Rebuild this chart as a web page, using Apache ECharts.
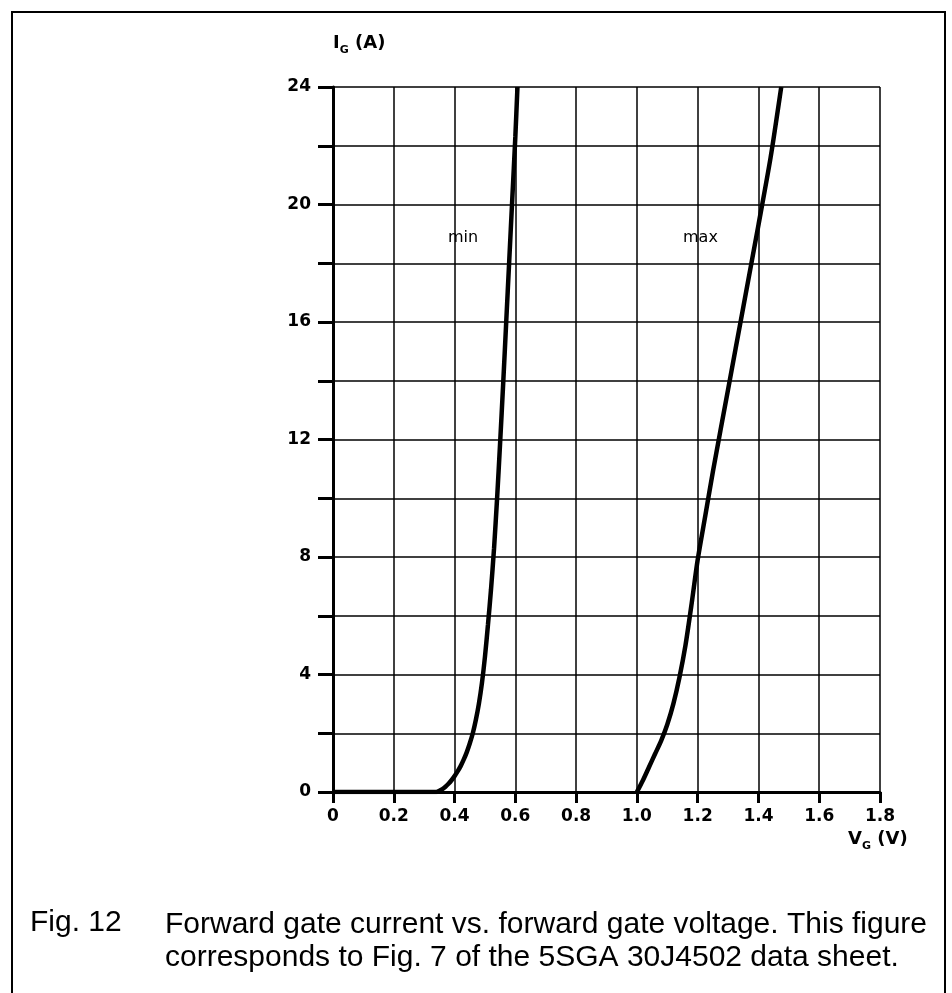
<!DOCTYPE html>
<html><head><meta charset="utf-8">
<script src="https://cdn.jsdelivr.net/npm/echarts@6/dist/echarts.min.js"></script>
<style>html,body{margin:0;padding:0;background:#fff}#c{width:952px;height:993px}</style>
</head><body><div id="c"></div>
<script>
// Gate voltage (V) / gate current (A)
const minV = [0.00, 0.34, 0.35, 0.36, 0.37, 0.38, 0.39, 0.40, 0.41, 0.42, 0.43, 0.44, 0.45, 0.46, 0.47, 0.48, 0.49, 0.50, 0.51, 0.52, 0.53, 0.54, 0.55, 0.56, 0.57, 0.58, 0.59, 0.60, 0.607];
const minI = [0, 0, 0.04, 0.1, 0.18, 0.28, 0.4, 0.54, 0.7, 0.88, 1.1, 1.35, 1.65, 2.0, 2.45, 3.0, 3.7, 4.6, 5.7, 6.9, 8.3, 10.0, 11.9, 13.9, 16.0, 18.1, 20.2, 22.3, 24];
const maxV = [1.00, 1.02, 1.04, 1.06, 1.08, 1.10, 1.12, 1.14, 1.16, 1.18, 1.20, 1.225, 1.25, 1.30, 1.35, 1.40, 1.44, 1.475];
const maxI = [0, 0.4, 0.85, 1.3, 1.75, 2.3, 3.0, 3.9, 5.0, 6.4, 7.9, 9.4, 10.9, 13.7, 16.5, 19.3, 21.6, 24];
const xTicks = ['0', '0.2', '0.4', '0.6', '0.8', '1.0', '1.2', '1.4', '1.6', '1.8'];
const yTicks = ['0', '4', '8', '12', '16', '20', '24'];
const captionNo = 'Fig. 12';
const captionL1 = 'Forward gate current vs. forward gate voltage. This figure';
const captionL2 = 'corresponds to Fig. 7 of the 5SGA 30J4502 data sheet.';

const pairs = (xs, ys) => xs.map((v, i) => [v, ys[i]]);
const tickFont = {color: '#000', fontFamily: 'DejaVu Sans', fontWeight: 'bold', fontSize: 17};
const nameRich = {
  b: {fontFamily: 'DejaVu Sans', fontWeight: 'bold', fontSize: 18, fill: '#000', verticalAlign: 'bottom'},
  s: {fontFamily: 'DejaVu Sans', fontWeight: 'bold', fontSize: 11, fill: '#000', verticalAlign: 'bottom', padding: [0, 0, -4, 0]}
};

const chart = echarts.init(document.getElementById('c'), null, {renderer: 'canvas'});
chart.setOption({
  animation: false,
  backgroundColor: '#fff',
  grid: {left: 333, right: 72, top: 87, bottom: 201, containLabel: false},
  xAxis: {
    type: 'value', min: 0, max: 1.8, interval: 0.2,
    axisLine: {show: true, onZero: false, lineStyle: {color: '#000', width: 3}},
    axisTick: {show: true, length: 11, lineStyle: {color: '#000', width: 3}},
    splitLine: {show: true, lineStyle: {color: '#000', width: 1.5}},
    axisLabel: Object.assign({margin: 16, formatter: v => {
      const k = Math.round(v / 0.2); return xTicks[k] !== undefined ? xTicks[k] : ''; }}, tickFont)
  },
  yAxis: {
    type: 'value', min: 0, max: 24, interval: 2,
    axisLine: {show: true, lineStyle: {color: '#000', width: 3}},
    axisTick: {show: true, length: 15, lineStyle: {color: '#000', width: 3}},
    splitLine: {show: true, lineStyle: {color: '#000', width: 1.5}},
    axisLabel: Object.assign({margin: 22, formatter: v => {
      const s = String(Math.round(v)); return yTicks.includes(s) ? s : ''; }}, tickFont)
  },
  series: [
    {type: 'line', data: pairs(minV, minI), smooth: 0.25, symbol: 'none',
     lineStyle: {color: '#000', width: 4.5}, z: 5},
    {type: 'line', data: pairs(maxV, maxI), smooth: 0.25, symbol: 'none',
     lineStyle: {color: '#000', width: 4.5}, z: 5}
  ],
  graphic: [
    {type: 'rect', shape: {x: 12, y: 12, width: 933, height: 1000}, style: {fill: 'none', stroke: '#000', lineWidth: 2}, z: 0},
    {type: 'text', left: 333, top: 34, style: {text: '{b|I}{s|G}{b| (A)}', fill: '#000', rich: nameRich}},
    {type: 'text', left: 848, top: 830, style: {text: '{b|V}{s|G}{b| (V)}', fill: '#000', rich: nameRich}},
    {type: 'text', left: 448, top: 230, style: {text: 'min', fill: '#000', font: '16px "DejaVu Sans"'}},
    {type: 'text', left: 683, top: 230, style: {text: 'max', fill: '#000', font: '16px "DejaVu Sans"'}},
    {type: 'text', left: 30, top: 908, style: {text: captionNo, fill: '#000', font: '30px "Liberation Sans"'}},
    {type: 'text', left: 165, top: 908, style: {text: captionL1 + '\n' + captionL2, fill: '#000', font: '30px "Liberation Sans"', lineHeight: 33}}
  ]
});
</script></body></html>
